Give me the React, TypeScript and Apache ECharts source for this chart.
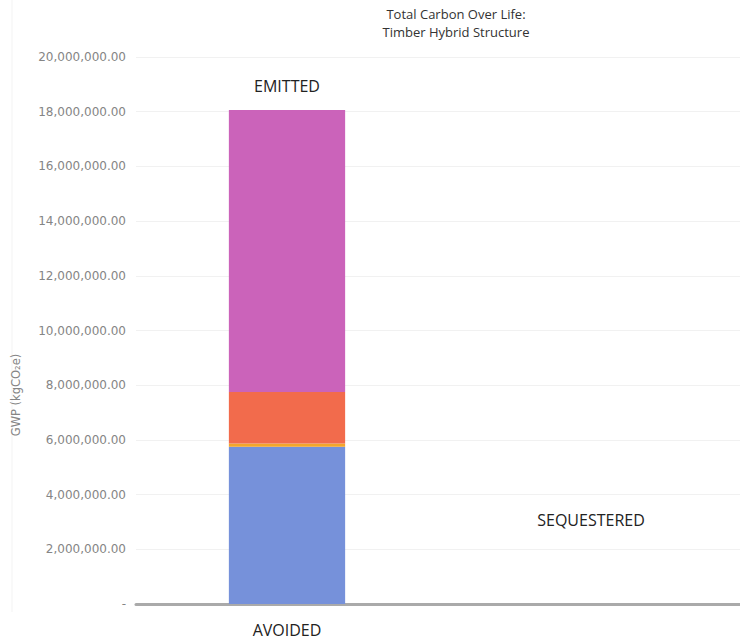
import React, { useEffect, useRef } from "react";
import * as echarts from "echarts";

const categories = ["Emitted", "Sequestered"];
const avoidedBase = [5750000, null];
const transport = [120000, null];
const construction = [1880000, null];
const operational = [10310000, null];
const seriesNames = ["Avoided", "Transport", "Construction", "Operational"];
const seriesColors = ["#7691DA", "#F4A62A", "#F26B4C", "#CB63BA"];

const fmt = (v: number) =>
  v === 0
    ? "-"
    : v.toLocaleString("en-US", { minimumFractionDigits: 2, maximumFractionDigits: 2 });

export default function App() {
  const ref = useRef<HTMLDivElement>(null);
  useEffect(() => {
    if (!ref.current) return;
    const chart = echarts.init(ref.current, undefined, { renderer: "svg" });
    const data = [avoidedBase, transport, construction, operational];
    chart.setOption({
      animation: false,
      grid: { left: 136, right: 0, top: 57, bottom: 37 },
      xAxis: {
        type: "category",
        data: categories,
        axisLine: { lineStyle: { color: "#aaaaaa", width: 3 } },
        axisTick: { show: false },
        axisLabel: { show: false },
      },
      yAxis: {
        type: "value",
        min: 0,
        max: 20000000,
        interval: 2000000,
        axisLine: { show: false },
        axisTick: { show: false },
        splitLine: { lineStyle: { color: "#f1f1f1", width: 1 } },
        axisLabel: {
          formatter: fmt,
          color: "#858585",
          fontFamily: "DejaVu Sans",
          fontSize: 12,
          margin: 10,
        },
      },
      series: data.map((d, i) => ({
        name: seriesNames[i],
        type: "bar",
        stack: "total",
        data: d,
        barWidth: "38.5%",
        itemStyle: { color: seriesColors[i] },
      })),
      graphic: [
        {
          type: "line",
          shape: { x1: 12, y1: 0, x2: 12, y2: 612 },
          style: { stroke: "#f3f3f3", lineWidth: 1 },
        },
        {
          type: "text",
          x: 456,
          y: 23,
          style: {
            text: "Total Carbon Over Life:\nTimber Hybrid Structure",
            font: "13px 'Open Sans'",
            fill: "#333333",
            align: "center",
            verticalAlign: "middle",
            lineHeight: 18,
          },
        },
        {
          type: "text",
          x: 16,
          y: 395,
          rotation: Math.PI / 2,
          style: {
            text: "GWP (kgCO\u2082e)",
            font: "11.5px 'DejaVu Sans'",
            fill: "#858585",
            align: "center",
            verticalAlign: "middle",
          },
        },
        {
          type: "text",
          x: 287,
          y: 86,
          style: { text: "EMITTED", font: "16px 'Open Sans'", fill: "#222", align: "center", verticalAlign: "middle" },
        },
        {
          type: "text",
          x: 287,
          y: 630,
          style: { text: "AVOIDED", font: "16px 'Open Sans'", fill: "#222", align: "center", verticalAlign: "middle" },
        },
        {
          type: "text",
          x: 591,
          y: 520,
          style: { text: "SEQUESTERED", font: "16px 'Open Sans'", fill: "#222", align: "center", verticalAlign: "middle" },
        },
      ],
    });
    return () => chart.dispose();
  }, []);
  return <div ref={ref} style={{ width: 740, height: 641, position: "absolute", left: 0, top: 0 }} />;
}
